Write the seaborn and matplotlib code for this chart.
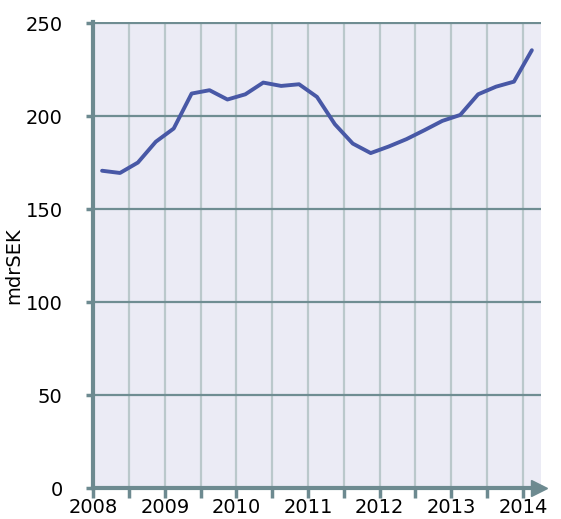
import numpy as np
import pandas as pd
import matplotlib
matplotlib.use("Agg")
import matplotlib.pyplot as plt
import matplotlib.transforms as mtransforms
import seaborn as sns

# ── Data (quarterly, mdrSEK) ─────────────────────────────────────────────────
quarters = [2008.125 + 0.25 * i for i in range(25)]
values = [170.6, 169.4, 175.0, 186.2, 193.3, 212.1, 213.9, 208.9, 211.7,
          218.0, 216.2, 217.1, 210.3, 195.6, 185.2, 180.1, 183.6, 187.6,
          192.4, 197.4, 200.6, 211.7, 215.8, 218.5, 235.4]
year_labels = ["2008", "2009", "2010", "2011", "2012", "2013", "2014"]
y_ticks = [0, 50, 100, 150, 200, 250]

AXIS_COL = "#6d8a90"
HGRID = "#6f8d92"
VGRID = "#bac8cb"
LINE_COL = "#4858a6"

sns.set_theme(style="darkgrid")
plt.rcParams["font.family"] = ["DejaVu Sans"]

df = pd.DataFrame({"t": quarters, "v": values})

fig = plt.figure(figsize=(5.61, 5.19), dpi=100)
ax = fig.add_axes([0.166, 0.0597, 0.798, 0.898])
ax.set_facecolor("#ebebf5")

sns.lineplot(data=df, x="t", y="v", color=LINE_COL, lw=2.8, ax=ax, zorder=3)

ax.set_xlim(2008, 2014.25)
ax.set_ylim(0, 250.6)

# half-year ticks, labels only on whole years (shifted a bit right)
half_years = np.arange(2008, 2014.01, 0.5)
ax.set_xticks(half_years)
xt_labels = []
for h in half_years:
    xt_labels.append(str(int(h)) if h == int(h) else "")
ax.set_xticklabels(xt_labels, fontsize=14)
shift = mtransforms.ScaledTranslation(9 / 100, 0, fig.dpi_scale_trans)
for lab in ax.get_xticklabels():
    lab.set_transform(lab.get_transform() + shift)

ax.set_yticks(y_ticks)
ax.set_yticklabels([str(v) for v in y_ticks], fontsize=14)

ax.grid(False)
for y in y_ticks[1:]:
    ax.axhline(y, color=HGRID, lw=1.6, zorder=1)
for x in half_years[1:]:
    ax.axvline(x, color=VGRID, lw=1.6, zorder=0.5)

ax.tick_params(axis="x", direction="out", length=7, width=2.5,
               color=AXIS_COL, bottom=True, pad=0, labelcolor="black")
ax.tick_params(axis="y", direction="out", length=5, width=2.5,
               color=AXIS_COL, left=True, pad=17, labelcolor="black")

for side in ["top", "right"]:
    ax.spines[side].set_visible(False)
for side in ["left", "bottom"]:
    ax.spines[side].set_visible(True)
    ax.spines[side].set_color(AXIS_COL)
    ax.spines[side].set_linewidth(3)

# arrow head at the end of the x axis
ax.plot([2014.22], [0], marker=">", markersize=11, color=AXIS_COL,
        clip_on=False, zorder=5)

ax.set_xlabel("")
ax.set_ylabel("mdrSEK", fontsize=14, color="black")
ax.yaxis.set_label_coords(-0.155, 0.476)

fig.savefig("out.png", dpi=100)
